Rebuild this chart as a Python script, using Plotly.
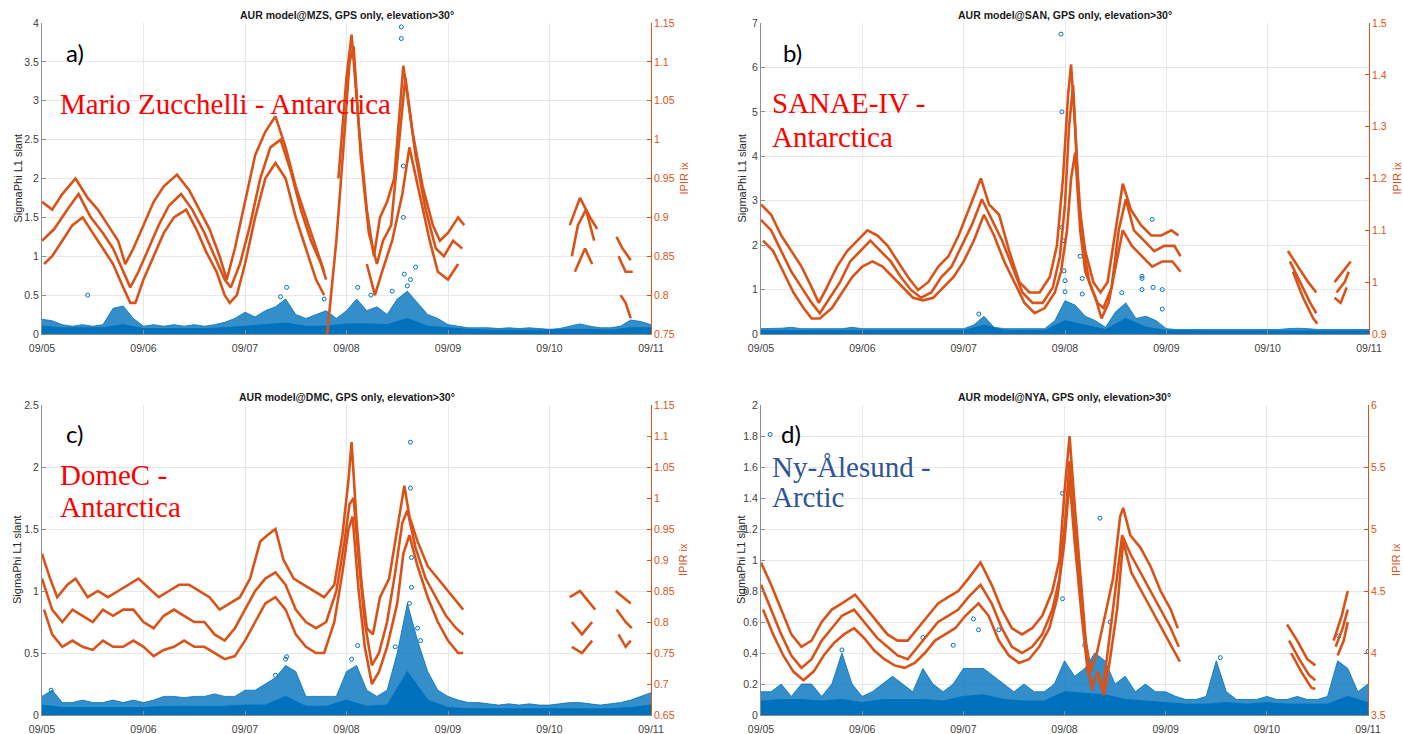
import plotly.graph_objects as go

W, H = 1403, 734

# ---------------- data ----------------
X_TICKS = [0, 1, 2, 3, 4, 5, 6]
X_LABELS = ["09/05", "09/06", "09/07", "09/08", "09/09", "09/10", "09/11"]

TITLES = ["AUR model@MZS, GPS only, elevation>30°",
          "AUR model@SAN, GPS only, elevation>30°",
          "AUR model@DMC, GPS only, elevation>30°",
          "AUR model@NYA, GPS only, elevation>30°"]

LEFT_TICKS_A = [0, 0.5, 1, 1.5, 2, 2.5, 3, 3.5, 4]
LEFT_LABELS_A = ["0", "0.5", "1", "1.5", "2", "2.5", "3", "3.5", "4"]
RIGHT_TICKS_A = [0.75, 0.8, 0.85, 0.9, 0.95, 1.0, 1.05, 1.1, 1.15]
RIGHT_LABELS_A = ["0.75", "0.8", "0.85", "0.9", "0.95", "1", "1.05", "1.1", "1.15"]

LEFT_TICKS_B = [0, 1, 2, 3, 4, 5, 6, 7]
LEFT_LABELS_B = ["0", "1", "2", "3", "4", "5", "6", "7"]
RIGHT_TICKS_B = [0.9, 1.0, 1.1, 1.2, 1.3, 1.4, 1.5]
RIGHT_LABELS_B = ["0.9", "1", "1.1", "1.2", "1.3", "1.4", "1.5"]

LEFT_TICKS_C = [0, 0.5, 1, 1.5, 2, 2.5]
LEFT_LABELS_C = ["0", "0.5", "1", "1.5", "2", "2.5"]
RIGHT_TICKS_C = [0.65, 0.7, 0.75, 0.8, 0.85, 0.9, 0.95, 1.0, 1.05, 1.1, 1.15]
RIGHT_LABELS_C = ["0.65", "0.7", "0.75", "0.8", "0.85", "0.9", "0.95", "1", "1.05", "1.1", "1.15"]

LEFT_TICKS_D = [0, 0.2, 0.4, 0.6, 0.8, 1.0, 1.2, 1.4, 1.6, 1.8, 2.0]
LEFT_LABELS_D = ["0", "0.2", "0.4", "0.6", "0.8", "1", "1.2", "1.4", "1.6", "1.8", "2"]
RIGHT_TICKS_D = [3.5, 4, 4.5, 5, 5.5, 6]
RIGHT_LABELS_D = ["3.5", "4", "4.5", "5", "5.5", "6"]

# blue SigmaPhi: sampling grids (days since 09/05)
ENV_DAYS = [round(i * 0.1, 1) for i in range(61)]
FLOOR_DAYS = [round(i * 0.2, 1) for i in range(31)]

A_SPIKE = [0.19, 0.17, 0.12, 0.10, 0.12, 0.10, 0.12, 0.33, 0.36, 0.20,
           0.10, 0.12, 0.10, 0.12, 0.10, 0.12, 0.10, 0.12, 0.15, 0.20,
           0.28, 0.22, 0.30, 0.35, 0.45, 0.25, 0.20, 0.25, 0.30, 0.20,
           0.30, 0.45, 0.30, 0.35, 0.25, 0.45, 0.55, 0.40, 0.25, 0.20,
           0.12, 0.10, 0.08, 0.08, 0.08, 0.07, 0.08, 0.07, 0.08, 0.07,
           0.06, 0.07, 0.10, 0.13, 0.10, 0.08, 0.08, 0.10, 0.18, 0.16, 0.12]
A_FLOOR = [0.10, 0.08, 0.08, 0.08, 0.12, 0.07, 0.07, 0.07, 0.07, 0.08,
           0.10, 0.12, 0.14, 0.10, 0.10, 0.13, 0.13, 0.12, 0.20, 0.10,
           0.08, 0.06, 0.05, 0.05, 0.05, 0.05, 0.06, 0.06, 0.05, 0.08, 0.08]
A_OUT = [(3.54, 3.95), (3.54, 3.80), (3.56, 2.16), (3.56, 1.50), (3.11, 0.60),
         (3.57, 0.77), (3.68, 0.86), (2.41, 0.60), (3.45, 0.55), (2.78, 0.45),
         (0.45, 0.50), (3.24, 0.50), (3.63, 0.70), (3.60, 0.62), (2.35, 0.48)]

B_SPIKE = [0.12, 0.12, 0.13, 0.15, 0.12, 0.12, 0.12, 0.13, 0.12, 0.15,
           0.12, 0.12, 0.12, 0.12, 0.13, 0.12, 0.12, 0.12, 0.12, 0.12,
           0.12, 0.20, 0.40, 0.15, 0.12, 0.12, 0.12, 0.12, 0.12, 0.30,
           0.75, 0.65, 0.40, 0.30, 0.15, 0.50, 0.70, 0.35, 0.40, 0.30,
           0.12, 0.10, 0.10, 0.10, 0.10, 0.10, 0.10, 0.10, 0.10, 0.10,
           0.10, 0.10, 0.12, 0.13, 0.12, 0.10, 0.10, 0.10, 0.10, 0.10, 0.10]
B_FLOOR = [0.08, 0.08, 0.08, 0.08, 0.08, 0.08, 0.08, 0.08, 0.08, 0.08,
           0.08, 0.20, 0.08, 0.08, 0.08, 0.30, 0.20, 0.10, 0.35, 0.15,
           0.08, 0.07, 0.07, 0.07, 0.07, 0.07, 0.07, 0.07, 0.07, 0.07, 0.07]
B_OUT = [(2.96, 6.75), (2.97, 5.00), (2.97, 2.40), (2.98, 2.10), (2.99, 1.42),
         (3.00, 1.20), (3.00, 0.95), (3.15, 1.75), (3.17, 1.25), (3.17, 0.90),
         (3.76, 1.30), (3.76, 1.25), (3.86, 2.58), (3.87, 1.05), (3.96, 1.00),
         (3.96, 0.56), (3.56, 0.93), (2.15, 0.45), (3.76, 1.00)]

C_SPIKE = [0.15, 0.20, 0.10, 0.10, 0.12, 0.10, 0.10, 0.12, 0.10, 0.12,
           0.10, 0.12, 0.15, 0.15, 0.14, 0.15, 0.15, 0.17, 0.15, 0.15,
           0.20, 0.20, 0.25, 0.30, 0.40, 0.35, 0.15, 0.15, 0.15, 0.15,
           0.35, 0.40, 0.20, 0.15, 0.20, 0.50, 0.90, 0.60, 0.35, 0.20,
           0.15, 0.12, 0.10, 0.10, 0.09, 0.08, 0.09, 0.08, 0.09, 0.08,
           0.08, 0.09, 0.10, 0.10, 0.09, 0.08, 0.09, 0.10, 0.12, 0.15, 0.18]
C_FLOOR = [0.08, 0.06, 0.06, 0.06, 0.06, 0.06, 0.07, 0.07, 0.07, 0.07,
           0.08, 0.08, 0.15, 0.07, 0.07, 0.12, 0.07, 0.08, 0.35, 0.12,
           0.06, 0.05, 0.05, 0.05, 0.05, 0.05, 0.05, 0.05, 0.05, 0.06, 0.08]
C_OUT = [(3.63, 2.20), (3.63, 1.83), (3.64, 1.27), (3.64, 1.03), (3.62, 0.90),
         (2.41, 0.47), (2.40, 0.45), (3.11, 0.56), (3.05, 0.45), (0.09, 0.20),
         (3.70, 0.70), (3.73, 0.60), (3.48, 0.55), (2.30, 0.32)]

D_SPIKE = [0.15, 0.15, 0.20, 0.12, 0.20, 0.20, 0.12, 0.20, 0.40, 0.20,
           0.12, 0.15, 0.20, 0.25, 0.20, 0.15, 0.30, 0.20, 0.15, 0.20,
           0.30, 0.30, 0.30, 0.25, 0.20, 0.15, 0.20, 0.15, 0.15, 0.20,
           0.35, 0.25, 0.30, 0.40, 0.35, 0.20, 0.25, 0.15, 0.20, 0.15,
           0.15, 0.12, 0.10, 0.10, 0.12, 0.35, 0.15, 0.10, 0.10, 0.10,
           0.12, 0.10, 0.10, 0.12, 0.10, 0.10, 0.12, 0.35, 0.30, 0.15, 0.20]
D_FLOOR = [0.09, 0.10, 0.10, 0.09, 0.10, 0.08, 0.10, 0.10, 0.10, 0.09,
           0.12, 0.13, 0.10, 0.09, 0.09, 0.15, 0.14, 0.13, 0.10, 0.09,
           0.08, 0.07, 0.07, 0.08, 0.07, 0.08, 0.07, 0.07, 0.07, 0.12, 0.08]
D_OUT = [(0.09, 1.81), (0.80, 0.42), (1.60, 0.50), (2.10, 0.62), (2.15, 0.55),
         (2.98, 0.75), (2.98, 1.43), (3.35, 1.27), (3.45, 0.60), (4.54, 0.37),
         (5.71, 0.51), (6.00, 0.41), (2.35, 0.55), (1.90, 0.45), (3.20, 0.45)]

# orange IPIR ix tracks (days, value); (None, None) = gap
A_T1 = [(0.00, 0.92), (0.10, 0.91), (0.20, 0.93), (0.33, 0.95), (0.45, 0.925), (0.55, 0.91),
        (0.65, 0.89), (0.75, 0.87), (0.82, 0.84), (0.90, 0.86), (1.00, 0.89), (1.10, 0.92),
        (1.20, 0.94), (1.33, 0.955), (1.45, 0.935), (1.55, 0.91), (1.65, 0.885), (1.75, 0.85),
        (1.82, 0.82), (1.90, 0.86), (2.00, 0.92), (2.10, 0.98), (2.20, 1.01), (2.30, 1.03),
        (2.40, 0.99), (2.50, 0.94), (2.60, 0.90), (2.70, 0.86), (2.78, 0.83), (None, None),
        (2.92, 0.95), (3.00, 1.08), (3.05, 1.135), (3.12, 1.02), (3.20, 0.91), (3.27, 0.85),
        (3.33, 0.90), (3.40, 0.92), (3.47, 0.95), (3.56, 1.095), (3.65, 1.01), (3.75, 0.94),
        (3.85, 0.89), (3.92, 0.87), (4.00, 0.88), (4.10, 0.90), (4.16, 0.89), (None, None),
        (5.20, 0.89), (5.30, 0.925), (5.40, 0.90), (5.47, 0.885), (None, None),
        (5.66, 0.875), (5.72, 0.86), (5.80, 0.845)]
A_T2 = [(0.00, 0.87), (0.12, 0.885), (0.25, 0.91), (0.36, 0.93), (0.48, 0.90), (0.60, 0.88),
        (0.70, 0.86), (0.80, 0.83), (0.87, 0.81), (0.95, 0.83), (1.05, 0.86), (1.15, 0.89),
        (1.25, 0.915), (1.37, 0.93), (1.48, 0.91), (1.60, 0.88), (1.70, 0.85), (1.80, 0.82),
        (1.86, 0.81), (1.95, 0.84), (2.05, 0.89), (2.15, 0.95), (2.25, 0.99), (2.35, 1.00),
        (2.45, 0.96), (2.55, 0.91), (2.65, 0.87), (2.75, 0.84), (2.80, 0.82), (None, None),
        (2.81, 0.75), (2.90, 0.87), (2.97, 0.99), (3.03, 1.10), (3.07, 1.12), (3.14, 0.98),
        (3.22, 0.88), (3.30, 0.84), (3.36, 0.87), (3.44, 0.89), (3.52, 1.00), (3.58, 1.08),
        (3.68, 0.98), (3.78, 0.91), (3.88, 0.86), (3.96, 0.85), (4.05, 0.87), (4.14, 0.86),
        (None, None), (5.22, 0.85), (5.28, 0.89), (5.36, 0.91), (5.44, 0.87), (None, None),
        (5.68, 0.85), (5.75, 0.83), (5.82, 0.83)]
A_T3 = [(0.02, 0.84), (0.10, 0.85), (0.20, 0.87), (0.30, 0.89), (0.40, 0.90), (0.50, 0.88),
        (0.60, 0.86), (0.70, 0.84), (0.80, 0.81), (0.87, 0.79), (0.92, 0.79), (1.00, 0.82),
        (1.10, 0.85), (1.20, 0.88), (1.30, 0.90), (1.42, 0.91), (1.52, 0.885), (1.62, 0.855),
        (1.72, 0.83), (1.80, 0.80), (1.85, 0.79), (1.92, 0.80), (2.00, 0.84), (2.10, 0.90),
        (2.20, 0.95), (2.30, 0.97), (2.40, 0.95), (2.50, 0.90), (2.60, 0.86), (2.70, 0.82),
        (2.78, 0.80), (None, None), (3.20, 0.84), (3.28, 0.80), (3.35, 0.83), (3.45, 0.87),
        (3.55, 0.93), (3.62, 0.99), (3.72, 0.93), (3.82, 0.87), (3.90, 0.83), (4.00, 0.82),
        (4.10, 0.84), (None, None), (5.25, 0.83), (5.35, 0.86), (5.42, 0.84), (None, None),
        (5.70, 0.80), (5.75, 0.79), (5.80, 0.77)]

B_T1 = [(0.00, 1.15), (0.10, 1.13), (0.20, 1.09), (0.30, 1.06), (0.40, 1.03), (0.50, 0.99),
        (0.57, 0.96), (0.65, 0.99), (0.75, 1.03), (0.85, 1.06), (0.95, 1.08), (1.05, 1.10),
        (1.15, 1.09), (1.25, 1.07), (1.35, 1.04), (1.45, 1.01), (1.55, 0.985), (1.65, 1.00),
        (1.75, 1.03), (1.85, 1.05), (1.95, 1.09), (2.05, 1.14), (2.17, 1.20), (2.25, 1.15),
        (2.35, 1.13), (2.45, 1.06), (2.55, 1.00), (2.65, 0.98), (2.75, 0.98), (2.85, 1.01),
        (2.92, 1.07), (2.98, 1.20), (3.03, 1.36), (3.06, 1.42), (3.10, 1.30), (3.14, 1.15),
        (3.20, 1.06), (3.28, 1.00), (3.35, 0.98), (3.42, 1.00), (3.50, 1.10), (3.57, 1.19),
        (3.65, 1.14), (3.75, 1.11), (3.85, 1.09), (3.95, 1.09), (4.05, 1.10), (4.12, 1.09),
        (None, None), (5.20, 1.06), (5.30, 1.03), (5.40, 1.00), (5.48, 0.98), (None, None),
        (5.66, 1.00), (5.74, 1.02), (5.82, 1.04)]
B_T2 = [(0.00, 1.12), (0.10, 1.10), (0.20, 1.06), (0.30, 1.02), (0.40, 0.99), (0.50, 0.96),
        (0.58, 0.94), (0.68, 0.97), (0.78, 1.00), (0.88, 1.04), (0.98, 1.06), (1.08, 1.08),
        (1.18, 1.06), (1.28, 1.04), (1.38, 1.01), (1.48, 0.985), (1.58, 0.97), (1.68, 0.98),
        (1.78, 1.01), (1.88, 1.03), (1.98, 1.07), (2.08, 1.11), (2.18, 1.16), (2.28, 1.12),
        (2.38, 1.08), (2.48, 1.03), (2.58, 0.98), (2.68, 0.96), (2.78, 0.96), (2.88, 0.99),
        (2.95, 1.05), (3.00, 1.15), (3.04, 1.30), (3.08, 1.38), (3.12, 1.22), (3.17, 1.08),
        (3.24, 1.00), (3.32, 0.96), (3.38, 0.95), (3.46, 0.99), (3.53, 1.10), (3.60, 1.16),
        (3.68, 1.10), (3.78, 1.08), (3.88, 1.06), (3.98, 1.07), (4.08, 1.07), (4.14, 1.05),
        (None, None), (5.22, 1.04), (5.32, 1.00), (5.42, 0.96), (5.48, 0.94), (None, None),
        (5.68, 0.98), (5.76, 1.00), (5.80, 1.02)]
B_T3 = [(0.02, 1.08), (0.12, 1.06), (0.22, 1.02), (0.32, 0.98), (0.42, 0.95), (0.50, 0.93),
        (0.58, 0.93), (0.70, 0.95), (0.80, 0.98), (0.90, 1.01), (1.00, 1.03), (1.10, 1.04),
        (1.20, 1.03), (1.30, 1.01), (1.40, 0.99), (1.50, 0.97), (1.60, 0.965), (1.70, 0.97),
        (1.80, 0.99), (1.90, 1.01), (2.00, 1.04), (2.10, 1.08), (2.20, 1.13), (2.30, 1.09),
        (2.40, 1.04), (2.50, 1.00), (2.60, 0.96), (2.70, 0.94), (2.80, 0.95), (2.90, 0.98),
        (2.96, 1.02), (3.02, 1.10), (3.06, 1.20), (3.10, 1.25), (3.15, 1.10), (3.20, 1.02),
        (3.30, 0.97), (3.36, 0.93), (3.43, 0.96), (3.50, 1.03), (3.57, 1.10), (3.66, 1.07),
        (3.76, 1.05), (3.86, 1.03), (3.96, 1.04), (4.06, 1.04), (4.14, 1.02), (None, None),
        (5.25, 1.02), (5.35, 0.97), (5.45, 0.93), (5.49, 0.92), (None, None),
        (5.66, 0.97), (5.72, 0.96), (5.78, 0.99)]

C_T1 = [(0.00, 0.91), (0.08, 0.87), (0.15, 0.84), (0.25, 0.86), (0.33, 0.87), (0.45, 0.84),
        (0.55, 0.85), (0.65, 0.84), (0.75, 0.85), (0.85, 0.86), (0.95, 0.87), (1.05, 0.855),
        (1.15, 0.84), (1.25, 0.85), (1.35, 0.86), (1.45, 0.86), (1.55, 0.85), (1.65, 0.84),
        (1.75, 0.82), (1.85, 0.83), (1.95, 0.84), (2.05, 0.87), (2.15, 0.93), (2.22, 0.94),
        (2.30, 0.95), (2.38, 0.90), (2.48, 0.87), (2.58, 0.86), (2.68, 0.85), (2.78, 0.84),
        (2.88, 0.86), (2.96, 0.94), (3.02, 1.03), (3.05, 1.09), (3.10, 0.96), (3.15, 0.86),
        (3.20, 0.79), (3.26, 0.78), (3.33, 0.84), (3.42, 0.87), (3.50, 0.95), (3.57, 1.02),
        (3.62, 0.97), (3.70, 0.93), (3.80, 0.89), (3.90, 0.87), (4.00, 0.85), (4.10, 0.83),
        (4.15, 0.82), (None, None), (5.20, 0.84), (5.30, 0.85), (5.40, 0.83), (5.45, 0.82),
        (None, None), (5.65, 0.85), (5.72, 0.84), (5.80, 0.83)]
C_T2 = [(0.00, 0.87), (0.10, 0.82), (0.20, 0.80), (0.30, 0.82), (0.40, 0.81), (0.50, 0.80),
        (0.60, 0.82), (0.70, 0.81), (0.80, 0.82), (0.90, 0.82), (1.00, 0.80), (1.10, 0.79),
        (1.20, 0.81), (1.30, 0.82), (1.40, 0.81), (1.50, 0.80), (1.60, 0.80), (1.70, 0.78),
        (1.80, 0.77), (1.90, 0.79), (2.00, 0.82), (2.10, 0.85), (2.20, 0.87), (2.30, 0.88),
        (2.40, 0.86), (2.50, 0.82), (2.60, 0.80), (2.70, 0.79), (2.80, 0.80), (2.90, 0.85),
        (2.98, 0.93), (3.03, 0.99), (3.07, 1.00), (3.12, 0.90), (3.18, 0.80), (3.25, 0.73),
        (3.32, 0.75), (3.40, 0.80), (3.48, 0.88), (3.55, 0.96), (3.60, 0.98), (3.68, 0.92),
        (3.78, 0.87), (3.88, 0.84), (3.98, 0.81), (4.08, 0.79), (4.15, 0.78), (None, None),
        (5.22, 0.80), (5.32, 0.78), (5.42, 0.80), (None, None),
        (5.66, 0.82), (5.75, 0.80), (5.81, 0.79)]
C_T3 = [(0.02, 0.82), (0.10, 0.78), (0.20, 0.76), (0.30, 0.77), (0.40, 0.76), (0.50, 0.755),
        (0.60, 0.77), (0.70, 0.76), (0.80, 0.76), (0.90, 0.77), (1.00, 0.76), (1.10, 0.745),
        (1.20, 0.755), (1.30, 0.76), (1.40, 0.77), (1.50, 0.76), (1.60, 0.76), (1.70, 0.75),
        (1.80, 0.74), (1.90, 0.745), (2.00, 0.77), (2.10, 0.80), (2.20, 0.83), (2.30, 0.84),
        (2.40, 0.82), (2.50, 0.78), (2.60, 0.76), (2.70, 0.75), (2.78, 0.75), (2.88, 0.80),
        (2.96, 0.88), (3.02, 0.95), (3.06, 0.97), (3.12, 0.85), (3.18, 0.76), (3.25, 0.70),
        (3.32, 0.72), (3.40, 0.76), (3.50, 0.83), (3.56, 0.91), (3.62, 0.94), (3.70, 0.89),
        (3.80, 0.84), (3.90, 0.80), (4.00, 0.77), (4.10, 0.75), (4.15, 0.75), (None, None),
        (5.22, 0.76), (5.32, 0.75), (5.42, 0.77), (None, None),
        (5.68, 0.78), (5.75, 0.76), (5.80, 0.77)]

D_T1 = [(0.00, 4.73), (0.10, 4.55), (0.20, 4.35), (0.30, 4.15), (0.40, 4.05), (0.50, 4.10),
        (0.60, 4.25), (0.70, 4.35), (0.80, 4.40), (0.93, 4.47), (1.05, 4.35), (1.15, 4.25),
        (1.25, 4.15), (1.35, 4.10), (1.45, 4.10), (1.55, 4.20), (1.65, 4.30), (1.75, 4.40),
        (1.85, 4.45), (1.95, 4.50), (2.05, 4.60), (2.17, 4.73), (2.28, 4.55), (2.38, 4.35),
        (2.48, 4.20), (2.58, 4.15), (2.68, 4.20), (2.78, 4.30), (2.88, 4.50), (2.95, 4.75),
        (3.00, 5.30), (3.05, 5.75), (3.10, 5.20), (3.15, 4.70), (3.21, 4.10), (3.26, 3.85),
        (3.32, 4.00), (3.40, 4.30), (3.48, 4.60), (3.55, 5.10), (3.58, 5.17), (3.65, 4.95),
        (3.75, 4.85), (3.85, 4.70), (3.95, 4.50), (4.05, 4.35), (4.12, 4.20), (None, None),
        (5.20, 4.23), (5.30, 4.10), (5.40, 3.95), (5.48, 3.90), (None, None),
        (5.66, 4.10), (5.74, 4.30), (5.80, 4.50)]
D_T2 = [(0.00, 4.55), (0.10, 4.35), (0.20, 4.15), (0.30, 3.98), (0.40, 3.88), (0.50, 3.95),
        (0.60, 4.10), (0.70, 4.20), (0.80, 4.30), (0.92, 4.35), (1.05, 4.22), (1.15, 4.12),
        (1.25, 4.05), (1.35, 3.98), (1.45, 3.95), (1.55, 4.05), (1.65, 4.15), (1.75, 4.25),
        (1.85, 4.30), (1.95, 4.35), (2.05, 4.45), (2.17, 4.55), (2.28, 4.40), (2.38, 4.20),
        (2.48, 4.05), (2.58, 4.00), (2.68, 4.05), (2.78, 4.15), (2.88, 4.35), (2.95, 4.60),
        (3.01, 5.10), (3.05, 5.55), (3.10, 5.05), (3.16, 4.50), (3.22, 3.95), (3.27, 3.72),
        (3.33, 3.85), (3.38, 3.70), (3.44, 4.10), (3.50, 4.50), (3.57, 4.95), (3.65, 4.80),
        (3.75, 4.65), (3.85, 4.50), (3.95, 4.35), (4.05, 4.20), (4.13, 4.05), (None, None),
        (5.22, 4.10), (5.32, 3.95), (5.42, 3.82), (5.48, 3.78), (None, None),
        (5.68, 4.05), (5.75, 4.20), (5.80, 4.35)]
D_T3 = [(0.02, 4.35), (0.12, 4.15), (0.22, 3.98), (0.32, 3.85), (0.42, 3.78), (0.52, 3.85),
        (0.62, 3.98), (0.72, 4.08), (0.82, 4.15), (0.92, 4.20), (1.02, 4.12), (1.12, 4.02),
        (1.22, 3.95), (1.32, 3.90), (1.42, 3.88), (1.52, 3.92), (1.62, 4.00), (1.72, 4.10),
        (1.82, 4.15), (1.92, 4.20), (2.02, 4.30), (2.15, 4.40), (2.25, 4.30), (2.35, 4.10),
        (2.45, 3.98), (2.55, 3.92), (2.65, 3.95), (2.75, 4.05), (2.85, 4.20), (2.93, 4.45),
        (3.00, 4.90), (3.05, 5.40), (3.10, 4.90), (3.17, 4.30), (3.23, 3.85), (3.28, 3.70),
        (None, None), (3.34, 3.80), (3.39, 3.66), (3.45, 3.95), (3.52, 4.35), (3.58, 4.90),
        (3.66, 4.65), (3.76, 4.50), (3.86, 4.35), (3.96, 4.20), (4.06, 4.05), (4.14, 3.93),
        (None, None), (5.24, 4.00), (5.34, 3.85), (5.44, 3.72), (5.48, 3.71), (None, None),
        (5.70, 3.98), (5.76, 4.10), (5.80, 4.25)]

STATION_LINES = [["Mario Zucchelli - Antarctica"], ["SANAE-IV -", "Antarctica"],
                 ["DomeC -", "Antarctica"], ["Ny-Ålesund -", "Arctic"]]
PANEL_LETTERS = ["a)", "b)", "c)", "d)"]

# ---------------- layout / style ----------------
BLUE = "#0072BD"
ORANGE = "#D95319"
GRID = "#e8e8e8"
AXC = "#8c8c8c"
TXT = "#262626"
FONT = "Liberation Sans"

PANELS = [
    dict(x0=42, x1=651, yt=23, yb=334, lrange=[0, 4], rrange=[0.75, 1.15],
         lt=LEFT_TICKS_A, ll=LEFT_LABELS_A, rt=RIGHT_TICKS_A, rl=RIGHT_LABELS_A,
         spike=A_SPIKE, floor=A_FLOOR, out=A_OUT, tracks=[A_T1, A_T2, A_T3],
         ltitle_x=17, rtitle_x=683, letter=(75, 52),
         st_x=58, st_y=[104], st_color="#FF0000"),
    dict(x0=761, x1=1369, yt=23, yb=334, lrange=[0, 7], rrange=[0.9, 1.5],
         lt=LEFT_TICKS_B, ll=LEFT_LABELS_B, rt=RIGHT_TICKS_B, rl=RIGHT_LABELS_B,
         spike=B_SPIKE, floor=B_FLOOR, out=B_OUT, tracks=[B_T1, B_T2, B_T3],
         ltitle_x=741, rtitle_x=1396, letter=(793, 52),
         st_x=770, st_y=[103, 137], st_color="#FF0000"),
    dict(x0=42, x1=651, yt=405, yb=715, lrange=[0, 2.5], rrange=[0.65, 1.15],
         lt=LEFT_TICKS_C, ll=LEFT_LABELS_C, rt=RIGHT_TICKS_C, rl=RIGHT_LABELS_C,
         spike=C_SPIKE, floor=C_FLOOR, out=C_OUT, tracks=[C_T1, C_T2, C_T3],
         ltitle_x=17, rtitle_x=683, letter=(74, 434),
         st_x=58, st_y=[475, 507], st_color="#FF0000"),
    dict(x0=761, x1=1368, yt=405, yb=715, lrange=[0, 2], rrange=[3.5, 6],
         lt=LEFT_TICKS_D, ll=LEFT_LABELS_D, rt=RIGHT_TICKS_D, rl=RIGHT_LABELS_D,
         spike=D_SPIKE, floor=D_FLOOR, out=D_OUT, tracks=[D_T1, D_T2, D_T3],
         ltitle_x=741, rtitle_x=1396, letter=(791, 434),
         st_x=770, st_y=[467, 497], st_color="#2F5597"),
]


def px(x):
    return x / W


def py(y):
    return 1 - y / H


fig = go.Figure()
annotations = []
layout = {}

for i, p in enumerate(PANELS):
    xn = "x" if i == 0 else f"x{i + 1}"
    yl = "y" if i == 0 else f"y{2 * i + 1}"
    yr = f"y{2 * i + 2}"
    xkey = "xaxis" if i == 0 else f"xaxis{i + 1}"
    ylkey = "yaxis" if i == 0 else f"yaxis{2 * i + 1}"
    yrkey = f"yaxis{2 * i + 2}"

    layout[xkey] = dict(domain=[px(p["x0"]), px(p["x1"])], range=[0, 6], anchor=yl,
                        automargin=False, ticklabelstandoff=4,
                        tickvals=X_TICKS, ticktext=X_LABELS, showgrid=True, gridcolor=GRID,
                        gridwidth=1, showline=True, linecolor=AXC, linewidth=1,
                        ticks="inside", ticklen=4, tickcolor=AXC, zeroline=False,
                        tickfont=dict(family=FONT, size=10.5, color="#404040"))
    layout[ylkey] = dict(domain=[py(p["yb"]), py(p["yt"])], range=p["lrange"], anchor=xn,
                         automargin=False,
                         tickvals=p["lt"], ticktext=p["ll"], showgrid=True, gridcolor=GRID,
                         gridwidth=1, showline=True, linecolor=AXC, linewidth=1,
                         ticks="inside", ticklen=4, tickcolor=AXC, zeroline=False,
                         tickfont=dict(family=FONT, size=10.5, color="#404040"))
    layout[yrkey] = dict(range=p["rrange"], overlaying=yl, side="right", anchor=xn,
                         automargin=False,
                         tickvals=p["rt"], ticktext=p["rl"], showgrid=False,
                         showline=True, linecolor=ORANGE, linewidth=1,
                         ticks="inside", ticklen=4, tickcolor=ORANGE, zeroline=False,
                         tickfont=dict(family=FONT, size=10.5, color=ORANGE))

    # blue SigmaPhi scatter cloud: sparse spikes, dense floor, outliers
    fig.add_trace(go.Scatter(x=ENV_DAYS, y=p["spike"], mode="lines", fill="tozeroy",
                             line=dict(width=1, color="rgba(0,114,189,0.8)"),
                             fillcolor="rgba(0,114,189,0.8)", xaxis=xn, yaxis=yl,
                             showlegend=False, hoverinfo="skip"))
    fig.add_trace(go.Scatter(x=FLOOR_DAYS, y=p["floor"], mode="lines", fill="tozeroy",
                             line=dict(width=1, color=BLUE), fillcolor=BLUE,
                             xaxis=xn, yaxis=yl, showlegend=False, hoverinfo="skip"))
    fig.add_trace(go.Scatter(x=[o[0] for o in p["out"]], y=[o[1] for o in p["out"]],
                             mode="markers", xaxis=xn, yaxis=yl, showlegend=False,
                             marker=dict(symbol="circle-open", size=4, color=BLUE,
                                         line=dict(width=1, color="rgba(0,114,189,0.7)"))))

    # orange IPIR tracks on right axis
    for tr in p["tracks"]:
        fig.add_trace(go.Scatter(x=[t[0] for t in tr], y=[t[1] for t in tr], mode="lines",
                                 line=dict(width=2.6, color=ORANGE), connectgaps=False,
                                 xaxis=xn, yaxis=yr, showlegend=False))

    # title
    annotations.append(dict(text=f"<b>{TITLES[i]}</b>", x=px((p["x0"] + p["x1"]) / 2),
                            y=py(p["yt"] - 8), xref="paper", yref="paper",
                            showarrow=False, xanchor="center", yanchor="middle",
                            font=dict(family=FONT, size=10.5, color="#1a1a1a")))
    # axis titles
    ymid = (p["yt"] + p["yb"]) / 2
    annotations.append(dict(text="SigmaPhi L1 slant", x=px(p["ltitle_x"]), y=py(ymid),
                            xref="paper", yref="paper", showarrow=False, textangle=-90,
                            xanchor="center", yanchor="middle",
                            font=dict(family=FONT, size=11, color=TXT)))
    annotations.append(dict(text="IPIR ix", x=px(p["rtitle_x"]), y=py(ymid),
                            xref="paper", yref="paper", showarrow=False, textangle=-90,
                            xanchor="center", yanchor="middle",
                            font=dict(family=FONT, size=11, color=ORANGE)))
    # panel letter
    annotations.append(dict(text=PANEL_LETTERS[i], x=px(p["letter"][0]), y=py(p["letter"][1]),
                            xref="paper", yref="paper", showarrow=False,
                            xanchor="center", yanchor="middle",
                            font=dict(family="Lato", size=24, color="#000000")))
    # station name
    for line, yy in zip(STATION_LINES[i], p["st_y"]):
        annotations.append(dict(text=line, x=px(p["st_x"]), y=py(yy), xref="paper",
                                yref="paper", showarrow=False, xanchor="left",
                                yanchor="middle",
                                font=dict(family="Liberation Serif", size=29,
                                          color=p["st_color"])))

fig.update_layout(width=W, height=H, margin=dict(l=0, r=0, t=0, b=0, autoexpand=False),
                  paper_bgcolor="white", plot_bgcolor="white", showlegend=False,
                  annotations=annotations, **layout)

fig.write_html("out.html", config={"displayModeBar": False},
               post_script="document.body.style.margin='0px';")
